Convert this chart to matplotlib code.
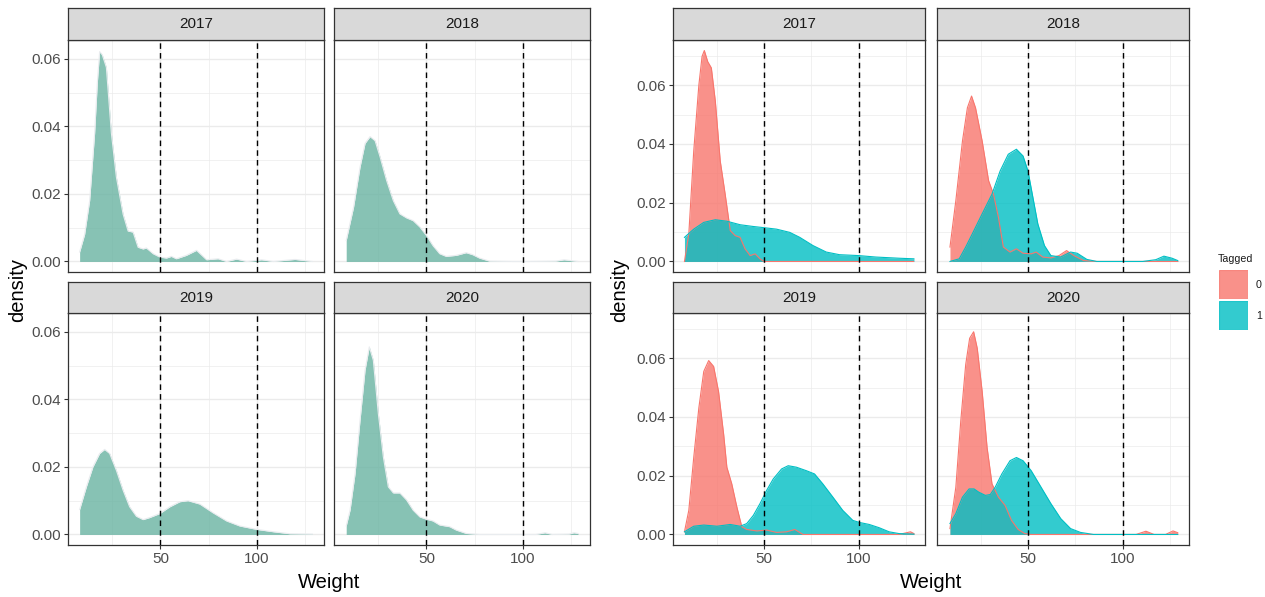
import matplotlib.pyplot as plt

plt.rcParams['font.family'] = ['Liberation Sans', 'DejaVu Sans']

W, H = 1265, 597

years = ["2017", "2018", "2019", "2020"]
cuts = [50, 100]

# left chart: all fish, density
all_x = {
    "2017": [8.0, 10.6, 13.2, 15.8, 17.2, 18.4, 19.8, 21.9, 24.5, 27.1, 30.6, 33.2, 35.8, 38.4, 41.0, 42.7,
             46.2, 49.7, 53.1, 55.7, 58.3, 63.5, 68.8, 74.0, 80.0, 84.4, 89.6, 94.8, 102.6, 108.7, 120.0, 129.0],
    "2018": [8.3, 12.1, 15.5, 18.1, 20.7, 23.3, 25.9, 29.3, 32.8, 36.2, 39.7, 43.1, 46.6, 50.0, 53.4, 56.9,
             60.3, 65.5, 70.7, 74.1, 77.6, 82.8, 94.8, 103.4, 117.2, 121.6, 125.9, 128.8],
    "2019": [8.0, 11.5, 14.9, 18.4, 21.0, 23.6, 27.1, 30.6, 34.0, 37.5, 41.0, 44.4, 49.7, 54.9, 60.1, 64.4,
             70.5, 77.4, 84.4, 91.3, 100.0, 108.7, 117.4, 129.0],
    "2020": [8.3, 10.3, 12.9, 15.5, 18.1, 20.3, 22.4, 25.0, 27.6, 30.2, 32.8, 36.2, 39.7, 43.1, 46.6, 50.0,
             53.4, 56.9, 62.1, 65.5, 70.7, 77.6, 106.9, 111.7, 115.5, 124.1, 126.7, 128.8],
}
all_d = {
    "2017": [0.0028, 0.0080, 0.0180, 0.0380, 0.0530, 0.0622, 0.0612, 0.0575, 0.0380, 0.0250, 0.0140, 0.0090,
             0.0087, 0.0042, 0.0037, 0.0040, 0.0023, 0.0013, 0.0010, 0.0015, 0.0008, 0.0018, 0.0033, 0.0005,
             0.0008, 0.0000, 0.0007, 0.0000, 0.0005, 0.0000, 0.0006, 0.0000],
    "2018": [0.0062, 0.0160, 0.0280, 0.0350, 0.0370, 0.0358, 0.0310, 0.0240, 0.0180, 0.0141, 0.0129, 0.0121,
             0.0102, 0.0077, 0.0047, 0.0023, 0.0015, 0.0018, 0.0026, 0.0020, 0.0010, 0.0001, 0.0000, 0.0000,
             0.0001, 0.0005, 0.0002, 0.0000],
    "2019": [0.0074, 0.0141, 0.0200, 0.0240, 0.0252, 0.0240, 0.0190, 0.0131, 0.0082, 0.0054, 0.0044, 0.0050,
             0.0062, 0.0082, 0.0097, 0.0100, 0.0090, 0.0064, 0.0040, 0.0025, 0.0015, 0.0008, 0.0002, 0.0001],
    "2020": [0.0025, 0.0072, 0.0180, 0.0339, 0.0487, 0.0556, 0.0516, 0.0358, 0.0230, 0.0141, 0.0123, 0.0123,
             0.0102, 0.0072, 0.0052, 0.0045, 0.0040, 0.0028, 0.0023, 0.0013, 0.0003, 0.0000, 0.0000, 0.0005,
             0.0000, 0.0001, 0.0005, 0.0003],
}

# right chart: split by Tagged (0 / 1)
t0_x = {
    "2017": [8.0, 10.3, 12.9, 15.6, 17.3, 18.5, 20.3, 22.2, 24.3, 26.9, 29.5, 32.2, 34.8, 37.4, 40.0, 42.7,
             45.3, 47.9, 50.0, 129.0],
    "2018": [8.8, 11.9, 15.4, 18.0, 20.2, 22.3, 25.8, 29.2, 31.8, 34.4, 37.0, 40.5, 43.9, 47.4, 51.7, 54.3,
             57.8, 62.1, 66.4, 70.4, 74.2, 79.4, 86.3, 129.1],
    "2019": [8.0, 10.3, 12.9, 15.6, 18.2, 20.8, 23.4, 26.0, 28.7, 30.4, 33.0, 35.7, 38.3, 40.9, 46.2, 51.4,
             56.6, 61.9, 66.3, 70.6, 121.3, 127.4, 129.2],
    "2020": [8.8, 11.9, 14.5, 17.1, 19.2, 21.3, 23.2, 25.8, 28.4, 31.0, 34.4, 37.9, 41.3, 44.8, 48.3, 51.7,
             107.1, 112.3, 116.6, 122.7, 126.6, 129.1],
}
t0_d = {
    "2017": [0.0000, 0.0094, 0.0376, 0.0600, 0.0698, 0.0718, 0.0680, 0.0659, 0.0546, 0.0342, 0.0229, 0.0105,
             0.0088, 0.0082, 0.0043, 0.0020, 0.0026, 0.0009, 0.0000, 0.0000],
    "2018": [0.0049, 0.0207, 0.0410, 0.0523, 0.0563, 0.0523, 0.0410, 0.0275, 0.0229, 0.0150, 0.0049, 0.0032,
             0.0043, 0.0028, 0.0026, 0.0032, 0.0015, 0.0012, 0.0020, 0.0037, 0.0020, 0.0003, 0.0000, 0.0000],
    "2019": [0.0009, 0.0082, 0.0262, 0.0431, 0.0555, 0.0592, 0.0572, 0.0487, 0.0341, 0.0229, 0.0172, 0.0093,
             0.0026, 0.0017, 0.0012, 0.0015, 0.0007, 0.0009, 0.0017, 0.0000, 0.0000, 0.0009, 0.0003],
    "2020": [0.0020, 0.0161, 0.0386, 0.0578, 0.0668, 0.0690, 0.0634, 0.0487, 0.0296, 0.0172, 0.0127, 0.0099,
             0.0048, 0.0017, 0.0003, 0.0000, 0.0000, 0.0011, 0.0000, 0.0000, 0.0012, 0.0006],
}
t1_x = {
    "2017": [8.0, 12.9, 18.2, 24.3, 30.4, 37.4, 44.4, 50.0, 56.6, 63.6, 68.9, 75.9, 82.9, 89.9, 100.0, 109.1,
             121.3, 129.2],
    "2018": [8.8, 13.7, 17.1, 20.6, 25.8, 31.0, 35.3, 39.6, 43.9, 47.4, 50.0, 52.6, 55.2, 58.7, 62.1, 67.3,
             72.5, 76.0, 81.1, 86.3, 110.6, 117.5, 121.8, 126.1, 129.1],
    "2019": [8.0, 12.9, 18.2, 25.2, 32.2, 37.4, 40.9, 44.4, 47.9, 51.4, 54.9, 59.3, 62.8, 67.1, 72.4, 76.7,
             81.1, 86.4, 91.6, 96.9, 100.3, 105.6, 110.8, 116.1, 121.3, 129.2],
    "2020": [8.8, 11.9, 15.4, 18.9, 21.5, 24.0, 27.5, 30.1, 32.7, 36.2, 40.5, 43.9, 47.4, 51.7, 56.9, 62.1,
             67.3, 72.5, 77.7, 84.6, 129.1],
}
t1_d = {
    "2017": [0.0082, 0.0110, 0.0133, 0.0142, 0.0137, 0.0125, 0.0119, 0.0115, 0.0110, 0.0099, 0.0082, 0.0054,
             0.0032, 0.0023, 0.0020, 0.0015, 0.0011, 0.0009],
    "2018": [0.0000, 0.0009, 0.0049, 0.0094, 0.0162, 0.0229, 0.0308, 0.0365, 0.0382, 0.0359, 0.0308, 0.0218,
             0.0128, 0.0054, 0.0020, 0.0015, 0.0032, 0.0028, 0.0007, 0.0000, 0.0000, 0.0006, 0.0018, 0.0011,
             0.0003],
    "2019": [0.0009, 0.0028, 0.0032, 0.0028, 0.0034, 0.0028, 0.0037, 0.0065, 0.0105, 0.0150, 0.0189, 0.0223,
             0.0234, 0.0229, 0.0217, 0.0206, 0.0172, 0.0127, 0.0082, 0.0048, 0.0041, 0.0034, 0.0023, 0.0009,
             0.0003, 0.0001],
    "2020": [0.0037, 0.0071, 0.0127, 0.0155, 0.0155, 0.0144, 0.0133, 0.0136, 0.0161, 0.0206, 0.0251, 0.0262,
             0.0251, 0.0217, 0.0161, 0.0105, 0.0054, 0.0020, 0.0007, 0.0000, 0.0000],
}

green = "#69b3a2"
red = "#F8766D"
cyan = "#00BFC4"

fig = plt.figure(figsize=(W / 100, H / 100), dpi=100)


def rect(x0, y0, x1, y1):
    return [x0 / W, 1 - y1 / H, (x1 - x0) / W, (y1 - y0) / H]


def density(ax, xs, ds, fill, line):
    ax.fill_between(xs, 0, ds, color=fill, alpha=0.8, linewidth=0)
    ax.plot(xs, ds, color=line, linewidth=0.8)


def facet_grid(cols, ymax, minor_y, draw):
    rows = [(8, 40, 272), (282, 313, 545)]
    lo, hi = -0.05 * ymax, 1.05 * ymax
    for i, yr in enumerate(years):
        cx0, cx1 = cols[i % 2]
        sy0, py0, py1 = rows[i // 2]
        ax = fig.add_axes(rect(cx0, py0, cx1, py1))
        ax.set_xlim(1.95, 135.05)
        ax.set_ylim(lo, hi)
        for v in [25, 75, 125]:
            ax.axvline(v, color="#ebebeb", linewidth=0.5, zorder=0)
        for v in [50, 100]:
            ax.axvline(v, color="#ebebeb", linewidth=1.0, zorder=0)
        for v in minor_y:
            ax.axhline(v, color="#ebebeb", linewidth=0.5, zorder=0)
        for v in [0, 0.02, 0.04, 0.06]:
            ax.axhline(v, color="#ebebeb", linewidth=1.0, zorder=0)
        draw(ax, yr)
        for c in cuts:
            ax.axvline(c, color="black", linewidth=1.0, linestyle=(0, (4, 3)), zorder=5)
        ax.set_xticks([50, 100])
        ax.set_yticks([0, 0.02, 0.04, 0.06])
        ax.set_yticklabels(["0.00", "0.02", "0.04", "0.06"])
        ax.tick_params(length=3, width=0.8, color="#333333", labelcolor="#4d4d4d", labelsize=11, pad=2)
        if i % 2 == 1:
            ax.tick_params(axis="y", length=0, labelleft=False)
        if i // 2 == 0:
            ax.tick_params(axis="x", length=0, labelbottom=False)
        for s in ax.spines.values():
            s.set_color("#333333")
            s.set_linewidth(0.9)
        st = fig.add_axes(rect(cx0, sy0, cx1, py0))
        st.set_facecolor("#d9d9d9")
        st.set_xticks([])
        st.set_yticks([])
        for s in st.spines.values():
            s.set_color("#333333")
            s.set_linewidth(0.9)
        st.text(0.5, 0.5, yr, ha="center", va="center", fontsize=11, color="#1a1a1a", transform=st.transAxes)


def draw_all(ax, yr):
    density(ax, all_x[yr], all_d[yr], green, "#e9ecef")


def draw_tagged(ax, yr):
    density(ax, t0_x[yr], t0_d[yr], red, red)
    density(ax, t1_x[yr], t1_d[yr], cyan, cyan)


facet_grid([(68, 324), (334, 590)], 0.0625, [0.01, 0.03, 0.05], draw_all)
facet_grid([(673, 925), (937, 1189)], 0.0718, [0.01, 0.03, 0.05, 0.07], draw_tagged)

# axis titles
fig.text(18 / W, 1 - 290 / H, "density", rotation=90, ha="center", va="center", fontsize=14.5)
fig.text(620 / W, 1 - 290 / H, "density", rotation=90, ha="center", va="center", fontsize=14.5)
fig.text(329 / W, 1 - 582 / H, "Weight", ha="center", va="center", fontsize=14.5)
fig.text(931 / W, 1 - 582 / H, "Weight", ha="center", va="center", fontsize=14.5)

# legend
fig.text(1218 / W, 1 - 259 / H, "Tagged", ha="left", va="center", fontsize=7.7, color="#1a1a1a")
for lab, col, ky in [("0", red, 270), ("1", cyan, 301)]:
    k = fig.add_axes(rect(1219, ky, 1248, ky + 29))
    k.set_facecolor("white")
    k.add_patch(plt.Rectangle((0, 0), 1, 1, facecolor=col, alpha=0.8, edgecolor=col, linewidth=0.8,
                              transform=k.transAxes))
    k.set_xticks([])
    k.set_yticks([])
    for s in k.spines.values():
        s.set_visible(False)
    fig.text(1256 / W, 1 - (ky + 15) / H, lab, ha="left", va="center", fontsize=7.7, color="#1a1a1a")

fig.savefig("out.png", dpi=100)
plt.close()
